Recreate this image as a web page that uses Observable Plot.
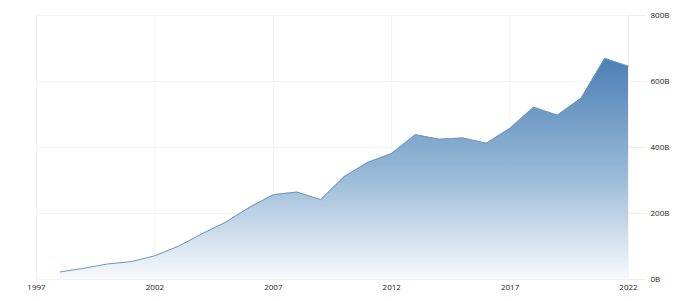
<!DOCTYPE html>
<html><head><meta charset="utf-8">
<script src="https://cdn.jsdelivr.net/npm/d3@7"></script>
<script src="https://cdn.jsdelivr.net/npm/@observablehq/plot@0.6"></script>
<style>html,body{margin:0;padding:0;background:#fff;}</style>
</head><body><div id="chart"></div>
<script>
const years = [1998,1999,2000,2001,2002,2003,2004,2005,2006,2007,2008,2009,2010,2011,2012,2013,2014,2015,2016,2017,2018,2019,2020,2021,2022];
const values = [23,34,47,54,72,101,139,174,219,257,265,242,312,355,382,439,425,429,413,458,522,498,549,670,646];
const xTicks = [1997,2002,2007,2012,2017,2022];
const yTicks = [0,200,400,600,800];
const data = years.map((y,i)=>({year:y, value:values[i]}));

const chart = Plot.plot({
  width:700, height:301,
  marginLeft:36, marginRight:72, marginTop:15, marginBottom:22,
  style:{fontFamily:"'Open Sans', sans-serif", fontSize:"8px", color:"#222", background:"#fff"},
  x:{domain:[1997,2022], label:null},
  y:{domain:[0,800], label:null},
  marks:[
    () => {
      const g = d3.create("svg:g");
      const grad = g.append("defs").append("linearGradient")
        .attr("id","areaGrad").attr("x1",0).attr("y1",0).attr("x2",0).attr("y2",1);
      grad.append("stop").attr("offset","0%").attr("stop-color","#4a7fb5");
      grad.append("stop").attr("offset","55%").attr("stop-color","#9dbcd9");
      grad.append("stop").attr("offset","100%").attr("stop-color","#f7f9fc");
      return g.node();
    },
    Plot.ruleX(xTicks, {stroke:"#f3f3f3", insetBottom:-18}),
    Plot.ruleY(yTicks, {stroke:"#f3f3f3"}),
    Plot.areaY(data, {x:"year", y:"value", fill:"url(#areaGrad)"}),
    Plot.lineY(data, {x:"year", y:"value", stroke:"#7099c2", strokeWidth:1}),
    Plot.axisX({ticks:xTicks, tickFormat:d=>String(d), tickSize:0, tickPadding:5, fill:"#222", label:null}),
    Plot.axisY({anchor:"right", ticks:yTicks, tickFormat:d=>d+"B", tickSize:17, tickPadding:5, stroke:"#eeeeee", fill:"#222", label:null})
  ]
});
document.getElementById("chart").append(chart);
</script>
</body></html>
